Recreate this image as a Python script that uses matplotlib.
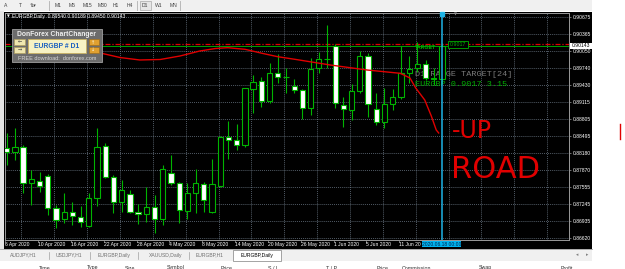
import matplotlib
matplotlib.use("Agg")
import matplotlib.pyplot as plt
from matplotlib.patches import Rectangle
from matplotlib import font_manager as fm
import numpy as np

# --------------------------------------------------------------------------- #
# data (EURGBP daily)
# --------------------------------------------------------------------------- #
OPEN = [0.88260, 0.88201, 0.88282, 0.87622, 0.87664, 0.87762, 0.87164, 0.86963, 0.87102, 0.87010,
        0.86845, 0.87347, 0.88306, 0.87732, 0.87285, 0.87421, 0.87102, 0.87060, 0.87193, 0.86963,
        0.87805, 0.87622, 0.87120, 0.87439, 0.87609, 0.87102, 0.87573, 0.88476, 0.88416, 0.88324,
        0.89345, 0.89497, 0.89125, 0.89643, 0.89579, 0.89411, 0.89332, 0.89011, 0.89729, 0.89894,
        0.90138, 0.89057, 0.88965, 0.89319, 0.89960, 0.88978, 0.88740, 0.89070, 0.89209, 0.89638,
        0.89729, 0.89803, 0.89557, 0.89540]
HIGH = [0.88544, 0.88636, 0.88324, 0.87866, 0.87835, 0.87793, 0.87225, 0.87439, 0.87285, 0.87212,
        0.87450, 0.88630, 0.88355, 0.87774, 0.87683, 0.87499, 0.87243, 0.87549, 0.87408, 0.87958,
        0.88141, 0.87652, 0.87633, 0.87879, 0.87646, 0.88062, 0.88489, 0.88764, 0.88703, 0.89369,
        0.89601, 0.89576, 0.89821, 0.89986, 0.89735, 0.89528, 0.89350, 0.89913, 0.90034, 0.90523,
        0.90175, 0.89198, 0.89442, 0.90052, 0.90004, 0.89271, 0.89363, 0.89345, 0.90138, 0.89960,
        0.90217, 0.89882, 0.89735, 0.90189]
LOW = [0.87958, 0.88049, 0.87445, 0.87225, 0.87468, 0.87041, 0.86809, 0.86889, 0.86858, 0.86827,
       0.86822, 0.87212, 0.87720, 0.87073, 0.87102, 0.87078, 0.86876, 0.86919, 0.86706, 0.86858,
       0.87591, 0.86889, 0.86963, 0.87073, 0.87102, 0.87078, 0.87555, 0.88062, 0.88232, 0.88282,
       0.88905, 0.89020, 0.89099, 0.89451, 0.89282, 0.89271, 0.88795, 0.88874, 0.89638, 0.89729,
       0.88997, 0.88648, 0.88782, 0.89271, 0.88843, 0.88691, 0.88630, 0.88965, 0.89161, 0.89455,
       0.89667, 0.89515, 0.89424, 0.89450]
CLOSE = [0.88201, 0.88282, 0.87622, 0.87696, 0.87578, 0.87175, 0.86950, 0.87102, 0.87023, 0.86919,
         0.87347, 0.88293, 0.87732, 0.87285, 0.87499, 0.87102, 0.87060, 0.87193, 0.86963, 0.87879,
         0.87622, 0.87133, 0.87439, 0.87622, 0.87316, 0.87604, 0.88476, 0.88416, 0.88324, 0.89363,
         0.89473, 0.89134, 0.89638, 0.89565, 0.89565, 0.89332, 0.89011, 0.89711, 0.89894, 0.89905,
         0.89099, 0.88978, 0.89319, 0.89960, 0.89070, 0.88740, 0.89070, 0.89209, 0.89638, 0.89717,
         0.89803, 0.89552, 0.89533, 0.90143]

# the last label is partly hidden behind the cursor box in the screenshot
DATE_LABELS = ["6 Apr 2020", "10 Apr 2020", "16 Apr 2020", "22 Apr 2020", "28 Apr 2020",
               "4 May 2020", "8 May 2020", "14 May 2020", "20 May 2020", "26 May 2020",
               "1 Jun 2020", "5 Jun 2020", "11 Jun 20"]
CURSOR_LABEL = "2020.06.18 00:00"
PRICE_TICKS = [0.90675, 0.90365, 0.90050, 0.89740, 0.89430, 0.89115, 0.88805,
               0.88495, 0.88180, 0.87870, 0.87555, 0.87245, 0.86935, 0.86620]

# red indicator line (bar position, price)
MA_BAR = [8.9, 11.4, 13.8, 16.2, 18.7, 21.1, 23.5, 25.4, 26.9, 29.0, 31.1, 33.0, 35.1,
          39.4, 43.9, 47.9, 49.1, 49.8, 50.9, 51.7, 52.3, 52.6]
MA_PRICE = [0.90092, 0.90010, 0.89927, 0.89882, 0.89891, 0.89955, 0.90046, 0.90092, 0.90107,
            0.90078, 0.90004, 0.89942, 0.89894, 0.89790, 0.89698, 0.89638, 0.89552, 0.89369,
            0.89149, 0.88855, 0.88599, 0.88544]

LAST_PRICE = 0.90143
TARGET_PRICE = 0.90175
HEADER = "EURGBP,Daily  0.89540 0.90189 0.89450 0.90143"

W, H, DPI = 625, 269, 100
GREEN = "#00b400"
UI = "Liberation Sans"
MONO = "Liberation Mono"
_names = {f.name for f in fm.fontManager.ttflist}
HAND = "Liberation Sans Narrow" if "Liberation Sans Narrow" in _names else "DejaVu Sans"

fig = plt.figure(figsize=(W / DPI, H / DPI), dpi=DPI, facecolor="white")

# background / window chrome in pixel coordinates
bg = fig.add_axes([0, 0, 1, 1], zorder=0)
bg.set_xlim(0, W)
bg.set_ylim(H, 0)
bg.axis("off")
ov = fig.add_axes([0, 0, 1, 1], zorder=5)
ov.set_xlim(0, W)
ov.set_ylim(H, 0)
ov.axis("off")
PX = ov.transData

bg.add_patch(Rectangle((0, 0), 592, 10.5, fc="#f0f0f0", ec="none"))
bg.add_patch(Rectangle((0, 10.5), 4, 238, fc="#e4e4e4", ec="none"))
bg.add_patch(Rectangle((4, 11.5), 588, 237, fc="black", ec="none"))
bg.add_patch(Rectangle((0, 248.5), 592, 12.5, fc="#f0f0f0", ec="none"))
bg.plot([0, 592], [248.8, 248.8], color="#a0a0a0", lw=0.6)

tb_items = [(6, "A"), (20.7, "T"), (33, "⇅▾"), (58, "M1"), (72, "M5"), (87, "M15"), (102, "M30"),
            (116, "H1"), (130, "H4"), (145, "D1"), (159, "W1"), (173, "MN")]
for x, s in tb_items:
    bg.text(x, 5.2, s, fontsize=3.6, family=[UI, "DejaVu Sans"], color="#404040", ha="center", va="center")
for x in (49, 137, 180):
    bg.plot([x, x], [1, 9.5], color="#b0b0b0", lw=0.6)
bg.add_patch(Rectangle((139.5, 1), 11, 8.5, fc="#e6e6e6", ec="#a8a8a8", lw=0.5))

tabs = [(23, "AUDJPY,H1"), (69, "USDJPY,H1"), (114.5, "EURGBP,Daily"), (165.5, "XAUUSD,Daily"),
        (210, "EURGBP,H1")]
for x, s in tabs:
    bg.text(x, 255, s, fontsize=3.6, family=UI, color="#707070", ha="center", va="center")
for x in (49, 90, 138, 189):
    bg.plot([x, x], [251.5, 258.5], color="#a0a0a0", lw=0.5)
bg.add_patch(Rectangle((233, 250), 48, 10.5, fc="white", ec="#808080", lw=0.5))
bg.text(257, 255, "EURGBP,Daily", fontsize=3.6, family=UI, color="black", ha="center", va="center")
bg.text(577, 255, "◂", fontsize=3.4, color="#808080", ha="center", va="center")
bg.text(587, 255, "▸", fontsize=3.4, color="#808080", ha="center", va="center")

cols = [(45, "Time"), (93, "Type"), (130, "Size"), (176, "Symbol"), (227, "Price"), (273, "S / L"),
        (332, "T / P"), (383, "Price"), (417, "Commission"), (485, "Swap"), (567, "Profit")]
for x, s in cols:
    bg.text(x, 265.5, s, fontsize=3.8, family=UI, color="#303030", ha="center", va="top")

# --------------------------------------------------------------------------- #
# chart area
# --------------------------------------------------------------------------- #
L, R, T, B = 5, 569, 13, 240
X0, DX = 6.7, 8.213          # pixel of bar 0, pixels per bar
P0, DP = 0.90981, 0.00018324  # price at pixel row 0, price per pixel
ax = fig.add_axes([L / W, 1 - B / H, (R - L) / W, (B - T) / H], zorder=1)
ax.set_facecolor("black")
ax.set_xlim((L - X0) / DX, (R - X0) / DX)
ax.set_ylim(P0 - DP * B, P0 - DP * T)
for s in ("top", "left", "bottom"):
    ax.spines[s].set_visible(False)
ax.spines["right"].set_color("#9a9a9a")
ax.spines["right"].set_linewidth(0.7)
ax.plot([0, 1], [1, 1], transform=ax.transAxes, color="#9a9a9a", lw=0.7, clip_on=False)
ax.plot([0, 1], [0, 0], transform=ax.transAxes, color="#9a9a9a", lw=0.7, clip_on=False)
ax.plot([0, 0], [0, 1], transform=ax.transAxes, color="#9a9a9a", lw=0.7, clip_on=False)

n = len(CLOSE)
bars = np.arange(n)
o, h, l, c = map(np.array, (OPEN, HIGH, LOW, CLOSE))

# grid
ax.set_yticks(PRICE_TICKS)
ax.set_yticklabels([f"{v:.5f}" for v in PRICE_TICKS])
ax.yaxis.tick_right()
ax.tick_params(axis="y", length=1.6, width=0.5, color="#9a9a9a", pad=0.8, labelsize=3.6,
               labelcolor="white")
for lab in ax.get_yticklabels():
    lab.set_family(UI)
ax.set_xticks([])
for v in PRICE_TICKS:
    ax.axhline(v, color="#8090a0", lw=0.5, ls=(0, (1.2, 1.6)), zorder=0.5)
for b in np.arange(1.8, 70, 4):
    ax.axvline(b, color="#8090a0", lw=0.5, ls=(0, (1.2, 1.6)), zorder=0.5)

# horizontal levels
ax.axhline(TARGET_PRICE, color="#e00000", lw=0.9, ls=(0, (4, 1.5, 1, 1.5)), zorder=1)
ax.axhline(LAST_PRICE, color="#00a000", lw=0.7, zorder=1)

# background text objects
ax.text(415, 75, "D1 RANGE TARGET[24]", transform=PX, family=MONO, fontsize=6.1, color="#7a7a7a",
        va="center", ha="left", zorder=1.5)
ax.text(415, 85, "EURGBP 0.9017 3.15", transform=PX, family=MONO, fontsize=6.1, color="#00b000",
        va="center", ha="left", zorder=1.5)

# candles
ax.vlines(bars, l, h, color=GREEN, lw=0.8, zorder=2)
bull = c >= o
ax.bar(bars, np.maximum(np.abs(c - o), 1e-6), bottom=np.minimum(o, c), width=0.64,
       color=np.where(bull, "black", "white"), edgecolor=GREEN, linewidth=0.8, zorder=3)

# red indicator line
ax.plot(MA_BAR, MA_PRICE, color="#e00000", lw=1.0, zorder=4)

# target marker
ax.text(415, 47.6, "TARGET", transform=PX, family=UI, fontsize=3.8, fontweight="bold",
        color="#00b000", va="center", ha="left", zorder=4)
ax.text(458, 44.5, "0.9017", transform=PX, family=UI, fontsize=3.8, color="#00b000",
        va="center", ha="center", zorder=4,
        bbox=dict(boxstyle="square,pad=0.25", fc="black", ec="#00b000", lw=0.6))

# cursor line on last bar
ax.axvline(bars[-1], color="#1eb4e6", lw=1.1, zorder=5)
ax.plot([bars[-1]], [P0 - DP * 14.5], marker="s", ms=2.2, color="#1eb4e6", zorder=5, clip_on=False)

# header
ax.text(8, 16.7, "▼", transform=PX, fontsize=2.6, color="white", va="center", ha="center")
ax.text(12.5, 16.7, HEADER, transform=PX, family=UI, fontsize=3.6, color="white", va="center", ha="left")
ax.text(455, 15, "▼", transform=PX, fontsize=2.8, color="#909090", va="center", ha="center")

# time axis labels
cx = X0 + DX * bars[-1]
for i, s in enumerate(DATE_LABELS):
    x = X0 + DX * 4 * i - 1.6
    ov.text(x, 244.2, s, family=UI, fontsize=3.6, color="white", va="center", ha="left")
    ov.plot([x] * 2, [240, 242], color="#9a9a9a", lw=0.5)
ov.add_patch(Rectangle((cx - 19.5, 240.8), 39, 6.4, fc="#00b4f0", ec="none"))
ov.text(cx, 244.1, CURSOR_LABEL, family=UI, fontsize=3.6, color="#00204a", va="center", ha="center")

# last price label
py = (P0 - LAST_PRICE) / DP
ov.add_patch(Rectangle((570, py - 3.1), 22, 6.2, fc="white", ec="none"))
ov.text(571.5, py, f"{LAST_PRICE:.5f}", family=UI, fontsize=3.6, color="black", va="center", ha="left")

# DonForex ChartChanger panel
ov.add_patch(Rectangle((11.7, 29.3), 90, 32.4, fc="#6c6c6c", ec="#a0a0a0", lw=0.6))
ov.text(56.7, 34, "DonForex ChartChanger", family=UI, fontsize=4.9, fontweight="bold", color="#f0f0f0",
        va="center", ha="center")
ov.add_patch(Rectangle((27.7, 39), 58.3, 13.7, fc="#f7f2c4", ec="#c8b060", lw=0.6))
ov.text(56.8, 46, "EURGBP # D1", family=UI, fontsize=4.9, fontweight="bold", color="#1a5fc0",
        va="center", ha="center")
for y, s in ((39, "←"), (46.5, "→")):
    ov.add_patch(Rectangle((14, y), 11, 6, fc="#efe7b0", ec="#b0a060", lw=0.5))
    ov.text(19.5, y + 3, s, fontsize=3.6, color="#404040", va="center", ha="center")
for y, s in ((39, "↑"), (46.5, "↓")):
    ov.add_patch(Rectangle((88.5, y), 10, 6, fc="#e0a030", ec="#a07020", lw=0.5))
    ov.text(93.5, y + 3, s, fontsize=3.6, color="#fff8e0", va="center", ha="center")
ov.text(56.7, 58.3, "FREE download:  donforex.com", family=UI, fontsize=4.0, color="#d8d8d8",
        va="center", ha="center")

# hand drawn note
ov.text(452, 131, "-UP", family=HAND, fontsize=17, color="#e00000", va="center", ha="left")
ov.text(451, 170, "ROAD", family=HAND, fontsize=22, color="#e00000", va="center", ha="left")
ov.plot([620, 620], [124, 139], color="#e00000", lw=1.0)

fig.savefig("out.png", dpi=DPI, facecolor="white")
